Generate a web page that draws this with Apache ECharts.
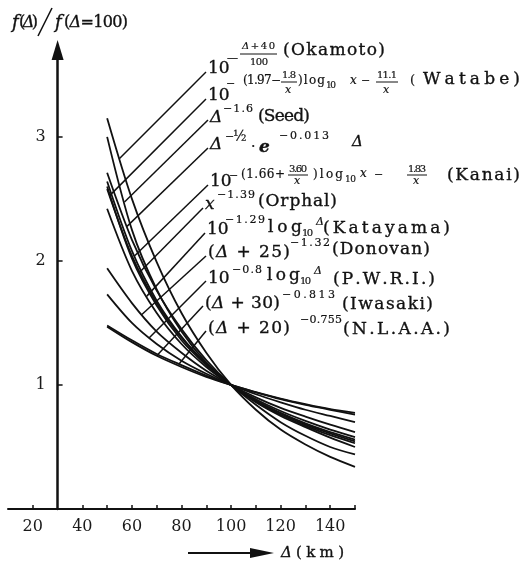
<!DOCTYPE html>
<html>
<head>
<meta charset="utf-8">
<script src="https://cdn.jsdelivr.net/npm/echarts@6/dist/echarts.min.js"></script>
<style>
  html, body { margin: 0; padding: 0; background: #fff; }
  #chart { width: 523px; height: 563px; }
</style>
</head>
<body>
<div id="chart"></div>
<script>
const INK = '#111';
const SERIF = '"DejaVu Serif", "Liberation Serif", serif';

// Distance (km) and f(Δ)/f(Δ=100) for each attenuation formula
const DIST_KM  = [50, 60, 70, 80, 90, 100, 110, 120, 130, 140, 150];
const OKAMOTO  = [3.15, 2.50, 1.99, 1.58, 1.26, 1.00, 0.80, 0.64, 0.52, 0.42, 0.34];
const WATABE   = [2.58, 2.04, 1.66, 1.38, 1.17, 1.00, 0.87, 0.77, 0.68, 0.61, 0.545];
const SEED     = [3.00, 2.25, 1.77, 1.43, 1.18, 1.00, 0.86, 0.75, 0.66, 0.575, 0.50];
const SEI      = [2.71, 2.17, 1.76, 1.45, 1.20, 1.00, 0.84, 0.70, 0.59, 0.50, 0.44];
const KANAI    = [2.64, 2.08, 1.68, 1.39, 1.17, 1.00, 0.865, 0.76, 0.67, 0.595, 0.53];
const ORPHAL   = [2.60, 2.02, 1.64, 1.36, 1.16, 1.00, 0.875, 0.775, 0.69, 0.62, 0.56];
const KATAYAMA = [2.42, 1.92, 1.58, 1.33, 1.145, 1.00, 0.885, 0.79, 0.71, 0.64, 0.58];
const DONOVAN  = [1.94, 1.66, 1.43, 1.26, 1.115, 1.00, 0.90, 0.815, 0.745, 0.68, 0.62];
const PWRI     = [1.73, 1.50, 1.33, 1.195, 1.09, 1.00, 0.925, 0.86, 0.80, 0.75, 0.70];
const IWASAKI  = [1.47, 1.345, 1.235, 1.145, 1.065, 1.00, 0.94, 0.885, 0.84, 0.80, 0.76];
const NLAA     = [1.48, 1.36, 1.25, 1.16, 1.075, 1.00, 0.942, 0.89, 0.845, 0.805, 0.775];

// order matches the label list from top to bottom
const CURVES = [OKAMOTO, WATABE, SEED, SEI, KANAI, ORPHAL, KATAYAMA, DONOVAN, PWRI, IWASAKI, NLAA];
// distance at which each leader line meets its curve
const LEADER_AT = [55, 51, 57, 58, 61, 63, 66, 64, 67, 70, 79];

const X_LABELS = [20, 40, 60, 80, 100, 120, 140];
const X_TICKS = [20, 40, 50, 60, 70, 80, 90, 100, 110, 120, 130, 140, 150];
const Y_LABELS = [1, 2, 3];

// Formula labels: [text, x, y, size, width to spread over, flag]; bars = fraction lines
const LABELS = [
  { at: [206, 72], bars: [[240, 277, 54]], pieces: [
    ['10', 208, 69, 17], ['—', 227, 58, 11], ['Δ+40', 242, 46, 10, 33], ['100', 250, 62, 10, 18],
    ['(Okamoto)', 283, 51, 17, 102]] },
  { at: [206, 99], bars: [[281, 297, 82], [376, 398, 82]], pieces: [
    ['10', 208, 96, 17], ['−', 226, 84, 11], ['(1.97−', 243, 81, 12, 38], ['1.8', 282, 75, 10, 14],
    ['x', 285, 90, 11], [')log', 298, 81, 12, 27], ['10', 326, 86, 9, 10], ['x', 350, 81, 12],
    ['−', 361, 81, 11], ['11.1', 377, 75, 10, 20], ['x', 383, 90, 11], ['(', 410, 81, 13],
    ['Watabe)', 423, 80, 17, 97]] },
  { at: [208, 120], bars: [], pieces: [
    ['Δ', 210, 118, 17], ['−1.6', 223, 109, 11, 30], ['(Seed)', 258, 117, 17, 52]] },
  { at: [208, 148], bars: [], pieces: [
    ['Δ', 210, 145, 17], ['−', 225, 137, 11], ['½', 233, 137, 14], ['.', 251, 143, 14],
    ['e', 259, 148, 17, 0, 'bi'], ['−0.013', 279, 136, 11, 50], ['Δ', 352, 142, 15]] },
  { at: [208, 185], bars: [[288, 308, 175], [407, 427, 175]], pieces: [
    ['10', 210, 182, 17], ['−', 229, 176, 11], ['(1.66+', 241, 175, 12, 44], ['3.60', 289, 169, 10, 18],
    ['x', 294, 181, 11], [')log', 313, 175, 12, 30], ['10', 345, 180, 9, 11], ['x', 360, 174, 12],
    ['−', 374, 175, 11], ['1.83', 408, 169, 10, 18], ['x', 413, 181, 11], ['(Kanai)', 447, 176, 17, 73]] },
  { at: [203, 208], bars: [], pieces: [
    ['x', 205, 205, 17], ['−1.39', 217, 195, 11, 38], ['(Orphal)', 258, 202, 17, 79]] },
  { at: [205, 233], bars: [], pieces: [
    ['10', 207, 230, 17], ['−1.29', 225, 220, 11, 40], ['log', 268, 228, 17, 34], ['10', 302, 233, 10, 11],
    ['Δ', 316, 222, 11], ['(Katayama)', 323, 229, 17, 127]] },
  { at: [206, 256], bars: [], pieces: [
    ['(Δ + 25)', 208, 253, 17, 82], ['−1.32', 290, 243, 11, 40], ['(Donovan)', 332, 250, 17, 98]] },
  { at: [206, 281], bars: [], pieces: [
    ['10', 208, 279, 17], ['−0.8', 232, 270, 11, 30], ['log', 267, 276, 17, 33], ['10', 300, 281, 10, 11],
    ['Δ', 314, 271, 11], ['(P.W.R.I.)', 333, 280, 17, 102]] },
  { at: [203, 306], bars: [], pieces: [
    ['(Δ + 30)', 205, 304, 17, 75], ['−0.813', 282, 295, 11, 53], ['(Iwasaki)', 342, 305, 17, 91]] },
  { at: [206, 331], bars: [], pieces: [
    ['(Δ + 20)', 208, 329, 17, 82], ['−0.755', 300, 320, 11, 42], ['(N.L.A.A.)', 343, 330, 17, 107]] },
];

const TITLE = [
  ['f', 12, 23, 18, 0, 'i'], ['(Δ)', 19, 23, 16, 19], ['f', 55, 23, 18, 0, 'i'], ['(Δ=100)', 64, 23, 16, 64]
];
const X_NAME = [['Δ', 281, 553, 15], ['(km)', 296, 553, 15, 48]];

const ctx = document.createElement('canvas').getContext('2d');

// lay a string out char by char, optionally spreading it over a given width (the scan is letter-spaced)
function textRun(p) {
  const [t, x, y, size, w, flag] = p;
  const chars = Array.from(t);
  const fmt = chars.map((ch) => ({
    italic: flag === 'i' || flag === 'bi' || ch === 'Δ' || ch === 'x',
    bold: flag === 'bi',
  }));
  const widths = chars.map((ch, i) => {
    ctx.font = (fmt[i].italic ? 'italic ' : '') + (fmt[i].bold ? 'bold ' : '') + size + 'px ' + SERIF;
    return ctx.measureText(ch).width;
  });
  const natural = widths.reduce((a, b) => a + b, 0);
  const gap = w && chars.length > 1 ? (w - natural) / (chars.length - 1) : 0;
  const out = [];
  let cx = x;
  chars.forEach((ch, i) => {
    if (ch !== ' ') {
      out.push({
        type: 'text', x: cx, y, silent: true, z: 100,
        style: {
          text: ch, fill: INK, stroke: INK, lineWidth: size >= 15 ? 0.35 : 0.2,
          fontSize: size, fontFamily: SERIF,
          fontStyle: fmt[i].italic ? 'italic' : 'normal',
          fontWeight: fmt[i].bold ? 'bold' : 'normal',
          align: 'left', verticalAlign: 'middle',
        },
      });
    }
    cx += widths[i] + gap;
  });
  return out;
}

function segment(x1, y1, x2, y2, width) {
  return { type: 'line', silent: true, z: 90, shape: { x1, y1, x2, y2 }, style: { stroke: INK, lineWidth: width } };
}

function valueAt(xs, ys, x) {
  for (let i = 0; i < xs.length - 1; i++) {
    if (x >= xs[i] && x <= xs[i + 1]) {
      const t = (x - xs[i]) / (xs[i + 1] - xs[i]);
      return ys[i] + t * (ys[i + 1] - ys[i]);
    }
  }
  return ys[ys.length - 1];
}

const chart = echarts.init(document.getElementById('chart'), null, { renderer: 'canvas' });

chart.setOption({
  animation: false,
  backgroundColor: '#fff',
  grid: { left: 8, right: 168, top: 50, bottom: 54, containLabel: false, outerBoundsMode: 'none' },
  xAxis: {
    type: 'value', min: 10, max: 150, interval: 10,
    axisLine: { show: true, onZero: false, lineStyle: { color: INK, width: 2 } },
    axisTick: { show: true, inside: true, length: 4, customValues: X_TICKS, lineStyle: { color: INK, width: 1.5 } },
    axisLabel: { customValues: X_LABELS, margin: 10, color: '#1a1a1a', fontSize: 16, fontFamily: SERIF },
    splitLine: { show: false },
  },
  yAxis: {
    type: 'value', min: 0, max: 3.7, interval: 1, position: 'left', offset: -49.6,
    axisLine: { show: true, onZero: false, symbol: ['none', 'triangle'], symbolSize: [12, 20], lineStyle: { color: INK, width: 2.5 } },
    axisTick: { show: true, inside: true, length: 5, customValues: Y_LABELS, lineStyle: { color: INK, width: 1.5 } },
    axisLabel: { customValues: Y_LABELS, margin: 12, color: '#1a1a1a', fontSize: 16, fontFamily: SERIF },
    splitLine: { show: false },
  },
  series: CURVES.map((vals) => ({
    type: 'line',
    data: DIST_KM.map((d, i) => [d, vals[i]]),
    smooth: 0.3,
    symbol: 'none',
    silent: true,
    lineStyle: { color: INK, width: 1.8 },
  })),
});

const elements = [];
LABELS.forEach((lab, k) => {
  lab.pieces.forEach((p) => elements.push(...textRun(p)));
  lab.bars.forEach(([x1, x2, y]) => elements.push(segment(x1, y, x2, y, 1)));
  const ax = LEADER_AT[k];
  const pt = chart.convertToPixel({ xAxisIndex: 0, yAxisIndex: 0 }, [ax, valueAt(DIST_KM, CURVES[k], ax)]);
  elements.push(segment(lab.at[0], lab.at[1], pt[0], pt[1], 1.5));
});
TITLE.forEach((p) => elements.push(...textRun(p)));
X_NAME.forEach((p) => elements.push(...textRun(p)));
// tall slash of the y-axis title
elements.push(segment(38, 36, 52, 8, 1.6));
// arrow under the x axis pointing to Δ (km)
elements.push(segment(188, 553, 256, 553, 2));
elements.push({
  type: 'polygon', silent: true, z: 90,
  shape: { points: [[250, 548], [274, 553], [250, 558]] },
  style: { fill: INK },
});

chart.setOption({ graphic: { elements } });
</script>
</body>
</html>
